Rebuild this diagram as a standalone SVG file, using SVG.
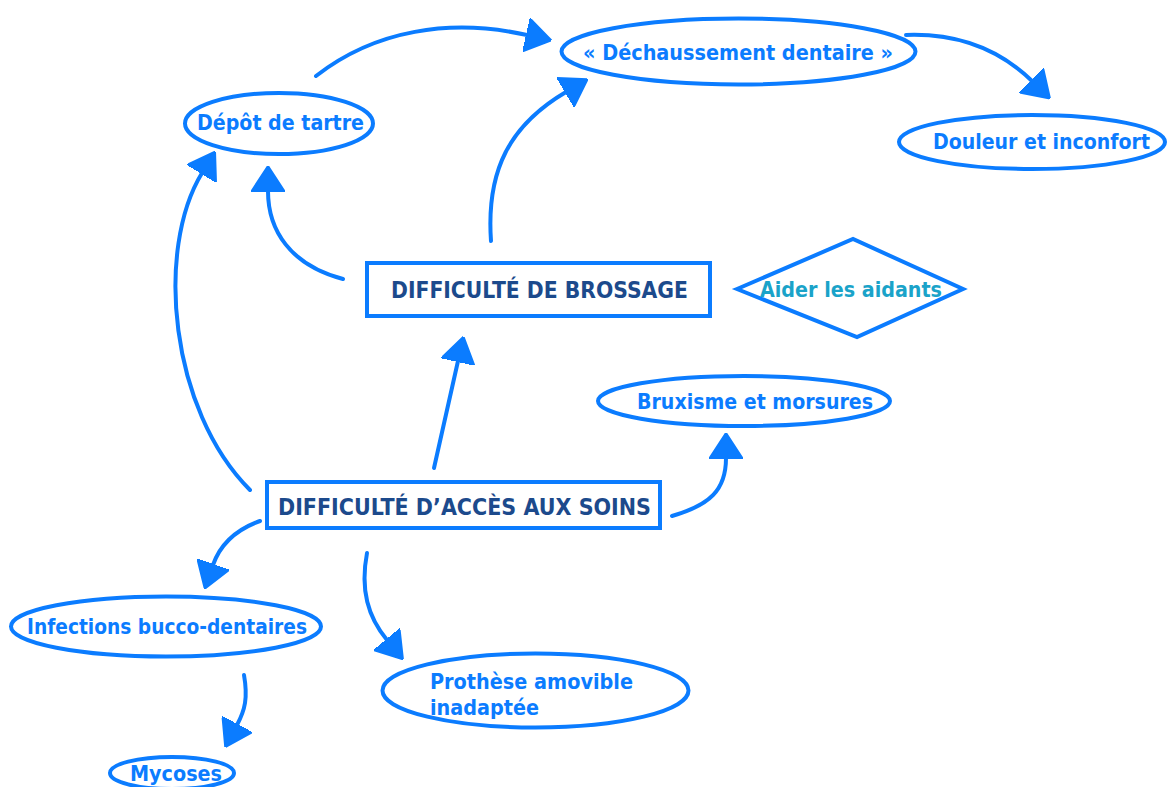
<svg xmlns="http://www.w3.org/2000/svg" width="1172" height="787" viewBox="0 0 1172 787">
<style>
.shape{fill:#fff;stroke:#0b7cff;stroke-width:4}
.lbl{font-family:"DejaVu Sans","Liberation Sans",sans-serif;font-weight:bold;font-size:20.5px;fill:#0b7cff}
.cap{font-family:"DejaVu Sans","Liberation Sans",sans-serif;font-weight:bold;font-size:22.5px;fill:#1c4a8c}
.aid{font-family:"DejaVu Sans","Liberation Sans",sans-serif;font-weight:bold;font-size:20.5px;fill:#1aa3c9}
.conn path{fill:none;stroke:#0b7cff;stroke-width:4;stroke-linecap:round}
</style>
<defs>
<marker id="ah" viewBox="0 0 26 34" refX="1" refY="17" markerWidth="26" markerHeight="34" markerUnits="userSpaceOnUse" orient="auto">
<path d="M0,0 L26,17 L0,34 Z" fill="#0b7cff" stroke="#0b7cff" stroke-width="2" stroke-linejoin="round"/>
</marker>
</defs>
<rect width="1172" height="787" fill="#fff"/>
<g id="connectors" class="conn">
<path d="M316,76 C375,30 450,18 527,35" marker-end="url(#ah)"/>
<path d="M491,241 C486,170 510,125 566,92" marker-end="url(#ah)"/>
<path d="M906,35 C960,33 1000,50 1032,81" marker-end="url(#ah)"/>
<path d="M343,279 C290,265 268,230 268,191" marker-end="url(#ah)"/>
<path d="M250,490 C170,410 155,250 202,173" marker-end="url(#ah)"/>
<path d="M434,468 L458,361" marker-end="url(#ah)"/>
<path d="M672,516 C710,505 726,490 726,458" marker-end="url(#ah)"/>
<path d="M260,521 C235,530 220,545 213,565" marker-end="url(#ah)"/>
<path d="M367,553 C360,590 368,617 387,640" marker-end="url(#ah)"/>
<path d="M244,675 C248,698 245,710 237,725" marker-end="url(#ah)"/>
</g>
<g id="dechaussement">
<ellipse class="shape" cx="738.5" cy="51.5" rx="177" ry="33"/>
<text class="lbl" x="583" y="60" textLength="310" lengthAdjust="spacingAndGlyphs">« Déchaussement dentaire »</text>
</g>
<g id="douleur">
<ellipse class="shape" cx="1032" cy="142" rx="133" ry="27"/>
<text class="lbl" x="933" y="149" textLength="217" lengthAdjust="spacingAndGlyphs">Douleur et inconfort</text>
</g>
<g id="depot">
<ellipse class="shape" cx="279" cy="123.5" rx="94" ry="30.5"/>
<text class="lbl" x="197" y="130" textLength="167" lengthAdjust="spacingAndGlyphs">Dépôt de tartre</text>
</g>
<g id="brossage">
<rect class="shape" x="367" y="263" width="343" height="53"/>
<text class="cap" x="391" y="298" textLength="297" lengthAdjust="spacingAndGlyphs">DIFFICULTÉ DE BROSSAGE</text>
</g>
<g id="aidants">
<polygon class="shape" points="737,289 853,239 963,289 857,337"/>
<text class="aid" x="760" y="297" textLength="182" lengthAdjust="spacingAndGlyphs">Aider les aidants</text>
</g>
<g id="bruxisme">
<ellipse class="shape" cx="744" cy="401" rx="146" ry="25"/>
<text class="lbl" x="637" y="409" textLength="236" lengthAdjust="spacingAndGlyphs">Bruxisme et morsures</text>
</g>
<g id="acces">
<rect class="shape" x="267" y="482" width="393" height="46"/>
<text class="cap" x="278" y="515" textLength="373" lengthAdjust="spacingAndGlyphs">DIFFICULTÉ D’ACCÈS AUX SOINS</text>
</g>
<g id="infections">
<ellipse class="shape" cx="166" cy="626.5" rx="155" ry="30"/>
<text class="lbl" x="27" y="634" textLength="280" lengthAdjust="spacingAndGlyphs">Infections bucco-dentaires</text>
</g>
<g id="prothese">
<ellipse class="shape" cx="535.5" cy="690.5" rx="153" ry="37"/>
<text class="lbl" x="430" y="689" textLength="203" lengthAdjust="spacingAndGlyphs">Prothèse amovible</text>
<text class="lbl" x="430" y="715" textLength="109" lengthAdjust="spacingAndGlyphs">inadaptée</text>
</g>
<g id="mycoses">
<ellipse class="shape" cx="172" cy="773" rx="62" ry="16"/>
<text class="lbl" x="130" y="781" textLength="92" lengthAdjust="spacingAndGlyphs">Mycoses</text>
</g>
</svg>
